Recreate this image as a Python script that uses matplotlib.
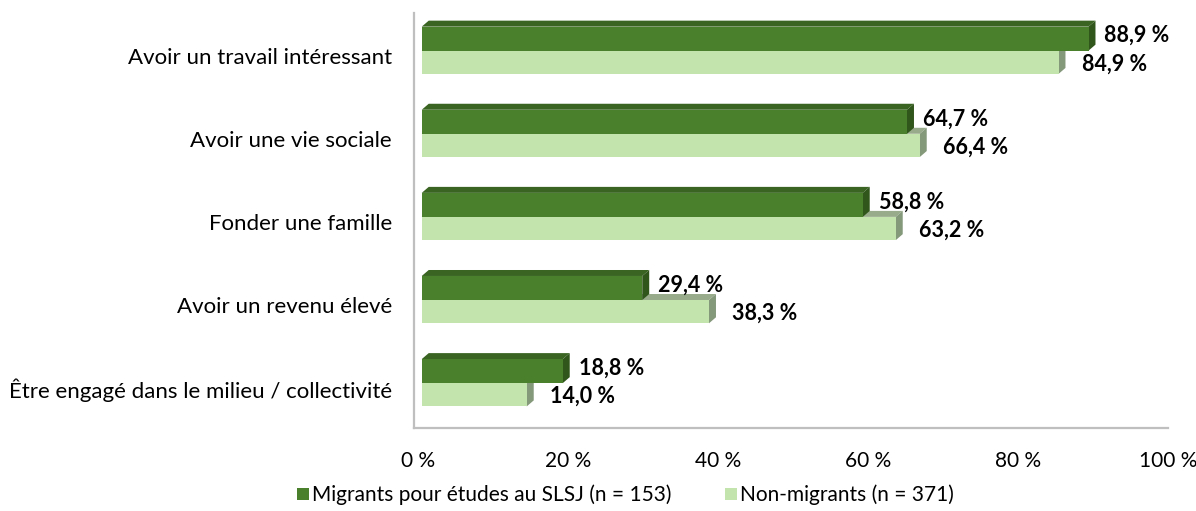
import matplotlib
matplotlib.use("Agg")
import matplotlib.pyplot as plt
from matplotlib.patches import Polygon
from matplotlib.patches import Patch

plt.rcParams['font.family'] = ['Lato', 'DejaVu Sans']

categories = ["Avoir un travail intéressant", "Avoir une vie sociale",
              "Fonder une famille", "Avoir un revenu élevé",
              "Être engagé dans le milieu / collectivité"]
migrants = [88.9, 64.7, 58.8, 29.4, 18.8]
non_migrants = [84.9, 66.4, 63.2, 38.3, 14.0]
x_ticks = [0, 20, 40, 60, 80, 100]
x_labels = ["0 %", "20 %", "40 %", "60 %", "80 %", "100 %"]
legend_labels = ["Migrants pour études au SLSJ (n = 153)", "Non-migrants (n = 371)"]

# couleurs (face avant, dessus, côté)
dark = ("#4a7f2c", "#3a6422", "#31561c")
light = ("#c3e5ad", "#98ab8b", "#84987a")

fig = plt.figure(figsize=(11.96, 5.11), dpi=100)
ax = fig.add_axes([414.25 / 1196, 83 / 511, 753.75 / 1196, 415 / 511])
ax.set_xlim(-0.5, 100)
ax.set_ylim(4.54, -0.453)

h_dark = 0.289
h_light = 0.28
dx = 0.93
dy = 0.072
x0 = 0.5


def bar3d(y_top, y_bot, value, cols):
    x1 = x0 + value
    ax.add_patch(Polygon([(x0, y_top), (x0 + dx, y_top - dy), (x1 + dx, y_top - dy), (x1, y_top)],
                         closed=True, facecolor=cols[1], edgecolor='none'))
    ax.add_patch(Polygon([(x1, y_top), (x1 + dx, y_top - dy), (x1 + dx, y_bot - dy), (x1, y_bot)],
                         closed=True, facecolor=cols[2], edgecolor='none'))
    ax.barh((y_top + y_bot) / 2, value, height=y_bot - y_top, left=x0,
            color=cols[0], edgecolor='none')


for i, (m, n) in enumerate(zip(migrants, non_migrants)):
    bar3d(i, i + h_light, n, light)
    bar3d(i - h_dark, i, m, dark)
    ax.text(x0 + m + 2.13, i - 0.18, f"{m:.1f} %".replace(".", ","),
            ha='left', va='center', fontsize=15.5, fontweight='bold')
    ax.text(x0 + n + 3.07, i + 0.16, f"{n:.1f} %".replace(".", ","),
            ha='left', va='center', fontsize=15.5, fontweight='bold')

ax.set_yticks([i + 0.06 for i in range(len(categories))])
ax.set_yticklabels(categories, fontsize=16)
ax.set_xticks(x_ticks)
ax.set_xticklabels(x_labels, fontsize=15)
ax.tick_params(axis='both', length=0)
ax.tick_params(axis='y', pad=16)
ax.tick_params(axis='x', pad=16.5)

for s in ['top', 'right']:
    ax.spines[s].set_visible(False)
for s in ['left', 'bottom']:
    ax.spines[s].set_color('#bfbfbf')
    ax.spines[s].set_linewidth(1.6)

handles = [Patch(facecolor=dark[0]), Patch(facecolor=light[0])]
fig.legend(handles, legend_labels, loc='center', ncol=2, frameon=False,
           bbox_to_anchor=(625.5 / 1196, 1 - 495 / 511), fontsize=15,
           handlelength=0.55, handleheight=0.55, handletextpad=0.15, columnspacing=2.6)

fig.savefig("out.png", dpi=100)
